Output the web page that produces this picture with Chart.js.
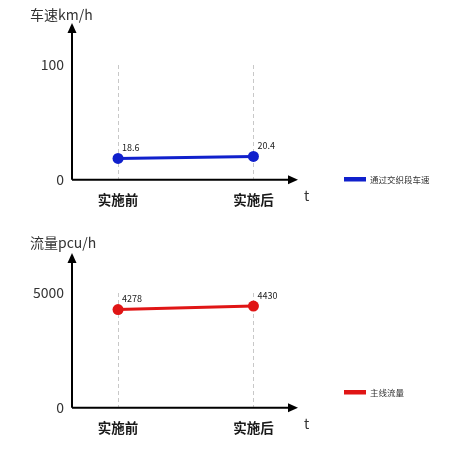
<!DOCTYPE html>
<html>
<head>
<meta charset="utf-8">
<script src="https://cdn.jsdelivr.net/npm/chart.js@4.4.1/dist/chart.umd.min.js"></script>
<style>
    html, body { margin: 0; padding: 0; background: #fff; }
    .box { position: absolute; left: 0; width: 450px; }
    #speedBox { top: 0; height: 225px; }
    #flowBox { top: 225px; height: 227px; }
</style>
</head>
<body>
<div class="box" id="speedBox"><canvas id="speedChart"></canvas></div>
<div class="box" id="flowBox"><canvas id="flowChart"></canvas></div>
<script>
const categories = ['实施前', '实施后'];
const speedValues = [18.6, 20.4];
const flowValues = [4278, 4430];
const speedTicks = [0, 100];
const flowTicks = [0, 5000];

const FONT = '"Noto Sans CJK SC", "Noto Sans", sans-serif';

// axes with arrows, axis title, "t", value labels and a small legend
const decorPlugin = {
    id: 'decor',
    afterDraw: (chart, args, opts) => {
        const ctx = chart.ctx;
        const area = chart.chartArea;
        const left = area.left, bottom = area.bottom;
        const topY = area.top - opts.arrowUp;
        const rightX = area.right + opts.arrowRight;
        ctx.save();
        ctx.strokeStyle = '#000';
        ctx.fillStyle = '#000';
        ctx.lineWidth = 2;
        ctx.beginPath();
        ctx.moveTo(left, bottom);
        ctx.lineTo(left, topY + 8);
        ctx.moveTo(left, bottom);
        ctx.lineTo(rightX - 8, bottom);
        ctx.stroke();
        ctx.beginPath();
        ctx.moveTo(left, topY);
        ctx.lineTo(left - 4.5, topY + 10);
        ctx.lineTo(left + 4.5, topY + 10);
        ctx.closePath();
        ctx.fill();
        ctx.beginPath();
        ctx.moveTo(rightX, bottom);
        ctx.lineTo(rightX - 10, bottom - 4.5);
        ctx.lineTo(rightX - 10, bottom + 4.5);
        ctx.closePath();
        ctx.fill();

        ctx.fillStyle = '#333';
        ctx.font = '14px ' + FONT;
        ctx.textBaseline = 'middle';
        ctx.textAlign = 'left';
        ctx.fillText(opts.title, 30, opts.titleY);
        ctx.fillText('t', rightX + 6, bottom + 16);

        // value labels
        const ds = chart.data.datasets[0];
        const meta = chart.getDatasetMeta(0);
        ctx.font = '9px ' + FONT;
        ctx.fillStyle = '#222';
        meta.data.forEach((pt, i) => {
            ctx.fillText(String(ds.data[i].y), pt.x + 4, pt.y - 11);
        });

        // legend
        ctx.fillStyle = ds.borderColor;
        ctx.fillRect(opts.legendX, opts.legendY - 2, 22, 4.5);
        ctx.fillStyle = '#333';
        ctx.font = '8.5px ' + FONT;
        ctx.fillText(ds.label, opts.legendX + 26, opts.legendY + 1);
        ctx.restore();
    }
};

const makeChart = (canvasId, label, values, ticks, color, decor, padTop, padBottom, axisWidth) => {
    const ctx = document.getElementById(canvasId).getContext('2d');
    return new Chart(ctx, {
        type: 'line',
        data: {
            datasets: [{
                label: label,
                data: values.map((v, i) => ({ x: i, y: v })),
                borderColor: color,
                backgroundColor: color,
                borderWidth: 3,
                pointRadius: 5.5,
                pointBorderWidth: 0,
                pointBackgroundColor: color,
                tension: 0
            }]
        },
        options: {
            responsive: true,
            maintainAspectRatio: false,
            animation: false,
            layout: {
                padding: { top: padTop, left: 72 - axisWidth, right: 160, bottom: padBottom }
            },
            plugins: {
                legend: { display: false },
                tooltip: { enabled: false },
                decor: decor
            },
            scales: {
                x: {
                    type: 'linear',
                    min: -0.34,
                    max: 1.27,
                    afterBuildTicks: (scale) => {
                        scale.ticks = categories.map((c, i) => ({ value: i }));
                    },
                    ticks: {
                        callback: (v) => categories[v],
                        font: { family: FONT, size: 13.5, weight: 'bold' },
                        color: '#1a1a1a',
                        padding: 12
                    },
                    grid: {
                        color: '#c8c8c8',
                        lineWidth: 1,
                        drawTicks: false
                    },
                    border: { display: false, dash: [4, 3] }
                },
                y: {
                    min: ticks[0],
                    max: ticks[ticks.length - 1],
                    afterBuildTicks: (scale) => {
                        scale.ticks = ticks.map(v => ({ value: v }));
                    },
                    afterFit: (scale) => {
                        scale.width = axisWidth;
                    },
                    ticks: {
                        callback: (v) => String(v),
                        font: { family: FONT, size: 14 },
                        color: '#333',
                        padding: 8
                    },
                    grid: { display: false, drawTicks: false },
                    border: { display: false }
                }
            }
        },
        plugins: [decorPlugin]
    });
};

makeChart('speedChart', '通过交织段车速', speedValues, speedTicks, '#1020cc',
    { title: '车速km/h', titleY: 15, arrowUp: 42, arrowRight: 8, legendX: 344, legendY: 179 }, 65, 5, 34);
makeChart('flowChart', '主线流量', flowValues, flowTicks, '#e01515',
    { title: '流量pcu/h', titleY: 18, arrowUp: 40, arrowRight: 8, legendX: 344, legendY: 167 }, 68, 4, 46);
</script>
</body>
</html>
